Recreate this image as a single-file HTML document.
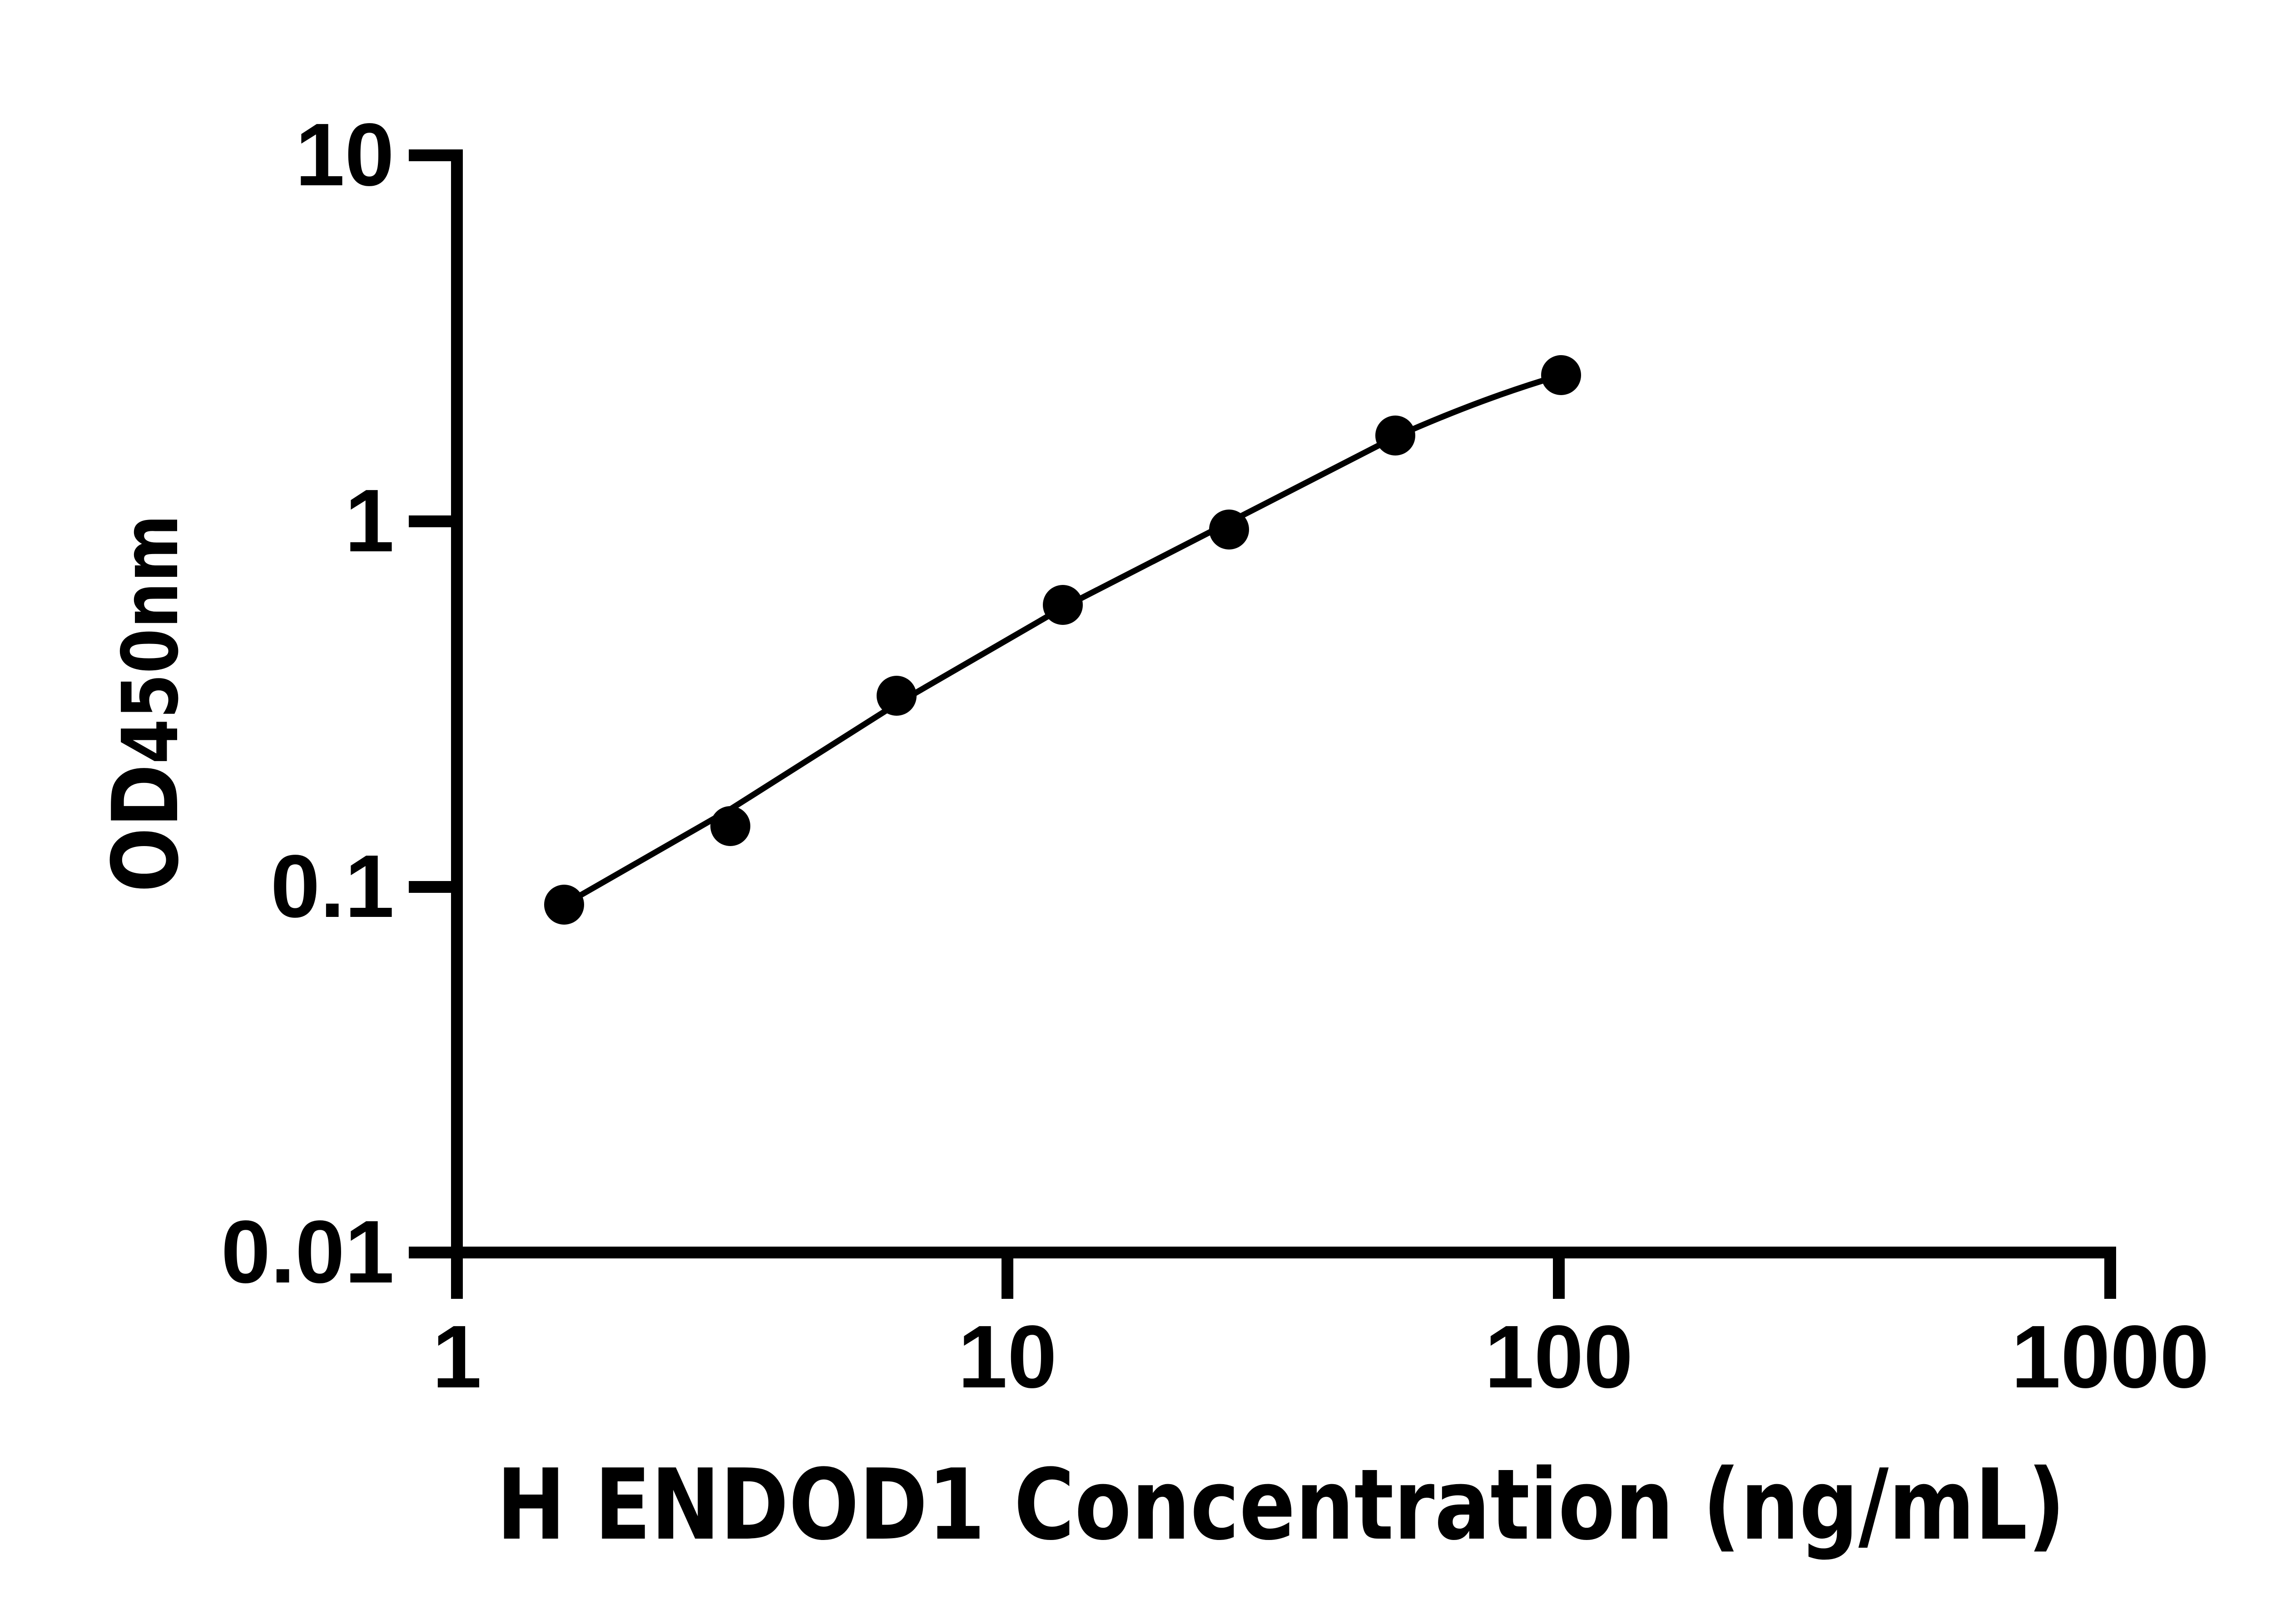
<!DOCTYPE html>
<html><head><meta charset="utf-8"><style>html,body{margin:0;padding:0;background:#fff}svg{display:block}</style></head>
<body>
<svg width="5170" height="3576" viewBox="0 0 5170 3576" xmlns="http://www.w3.org/2000/svg">
<rect width="5170" height="3576" fill="#fff"/>
<g stroke="#000" stroke-width="26" fill="none" stroke-linecap="butt">
  <line x1="1006" y1="330" x2="1006" y2="2860"/>
  <line x1="993" y1="2758" x2="4659" y2="2758"/>
  <line x1="900" y1="342" x2="1019" y2="342"/>
  <line x1="900" y1="1148" x2="1019" y2="1148"/>
  <line x1="900" y1="1953" x2="1019" y2="1953"/>
  <line x1="900" y1="2758" x2="1019" y2="2758"/>
  <line x1="2218" y1="2746" x2="2218" y2="2860"/>
  <line x1="3432" y1="2746" x2="3432" y2="2860"/>
  <line x1="4646" y1="2746" x2="4646" y2="2860"/>
</g>
<g font-family="'Liberation Sans', Arial, sans-serif" font-weight="bold" fill="#000" font-size="196">
  <g text-anchor="end">
    <text x="868" y="408">10</text>
    <text x="868" y="1214">1</text>
    <text x="868" y="2019">0.1</text>
    <text x="868" y="2824">0.01</text>
  </g>
  <g text-anchor="middle">
    <text x="1006" y="3055">1</text>
    <text x="2218" y="3055">10</text>
    <text x="3432" y="3055">100</text>
    <text x="4646" y="3055">1000</text>
  </g>
</g>
<text x="2820" y="3388" text-anchor="middle" font-family="'DejaVu Sans', sans-serif" font-weight="bold" font-size="215" textLength="3454" lengthAdjust="spacingAndGlyphs">H ENDOD1 Concentration (ng/mL)</text>
<text transform="translate(390,1549) rotate(-90)" text-anchor="middle" font-family="'DejaVu Sans', sans-serif" font-weight="bold" font-size="200" textLength="832" lengthAdjust="spacingAndGlyphs">OD<tspan font-size="170">450nm</tspan></text>
<path d="M1242,1992 L1608,1782 L1974,1550 L2340,1338 L2706,1150 L3072,962 C3200,905 3320,860 3437,826" stroke="#000" stroke-width="13" fill="none" stroke-linejoin="round"/>
<g fill="#000">
  <circle cx="1242" cy="1992" r="44"/>
  <circle cx="1608" cy="1819" r="44"/>
  <circle cx="1974" cy="1532" r="44"/>
  <circle cx="2340" cy="1332" r="44"/>
  <circle cx="2706" cy="1166" r="44"/>
  <circle cx="3072" cy="959" r="44"/>
  <circle cx="3437" cy="826" r="44"/>
</g>
</svg>
</body></html>
